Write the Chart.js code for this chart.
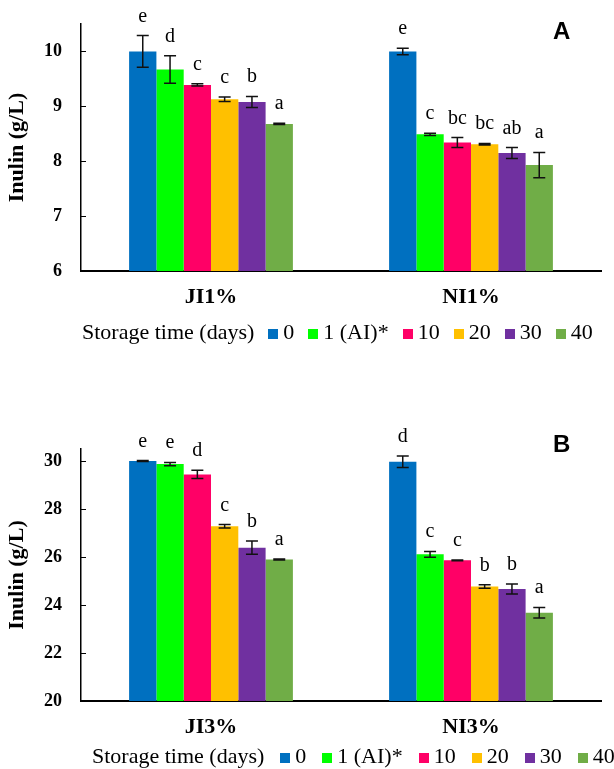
<!DOCTYPE html>
<html>
<head>
<meta charset="utf-8">
<script src="https://cdn.jsdelivr.net/npm/chart.js@4.4.0/dist/chart.umd.min.js"></script>
<style>
  body { margin: 0; background: #fff; }
  #page { position: relative; width: 614px; height: 769px; overflow: hidden; background: #fff; }
  canvas { position: absolute; left: 0; }
  #chartA { top: 0; }
  #chartB { top: 380px; }
  .panel { position: absolute; left: 553px; font: bold 24px "Liberation Sans", Arial, sans-serif; line-height: 24px; }
  .legend { position: absolute; display: flex; align-items: baseline; white-space: nowrap;
            font: 22px "Liberation Serif", "Times New Roman", serif; line-height: 22px; color: #000; }
  .legend .box { display: inline-block; width: 10px; height: 10px; margin-right: 5px; }
  .legend .item { margin-left: var(--gap); }
  .legend .item:first-of-type { margin-left: 19px; }
</style>
</head>
<body>
<div id="page">
  <canvas id="chartA" width="614" height="320"></canvas>
  <canvas id="chartB" width="614" height="370"></canvas>
  <div class="panel" style="top:19px">A</div>
  <div class="panel" style="top:432px">B</div>
  <div class="legend" id="legendA" style="left:82px; top:321px; --gap:14px"></div>
  <div class="legend" id="legendB" style="left:92px; top:745px; --gap:16px"></div>
</div>
<script>
// storage time series (one bar per day in each group)
const storageDays = ['0', '1 (AI)*', '10', '20', '30', '40'];
const dayColors = ['#0070C0', '#00FF00', '#FF0066', '#FFC000', '#7030A0', '#70AD47'];

// panel A: 1% inulin juices
const groupsA = ['JI1%', 'NI1%'];
const ticksA = [6, 7, 8, 9, 10];
const inulinA = [[10.0, 10.0], [9.67, 8.49], [9.39, 8.34], [9.13, 8.31], [9.08, 8.15], [8.68, 7.93]];
const errorsA = [[0.29, 0.06], [0.25, 0.02], [0.02, 0.09], [0.04, 0.015], [0.10, 0.10], [0.01, 0.23]];
const lettersA = [['e', 'e'], ['d', 'c'], ['c', 'bc'], ['c', 'bc'], ['b', 'ab'], ['a', 'a']];

// panel B: 3% inulin juices
const groupsB = ['JI3%', 'NI3%'];
const ticksB = [20, 22, 24, 26, 28, 30];
const inulinB = [[30.0, 29.97], [29.87, 26.11], [29.44, 25.86], [27.28, 24.77], [26.39, 24.67], [25.9, 23.68]];
const errorsB = [[0.02, 0.24], [0.07, 0.12], [0.17, 0.02], [0.07, 0.07], [0.28, 0.21], [0.02, 0.22]];
const lettersB = [['e', 'd'], ['e', 'c'], ['d', 'c'], ['c', 'b'], ['b', 'b'], ['a', 'a']];

const serif = '"Liberation Serif", "Times New Roman", serif';

// error bars, significance letters and short inward ticks on the y axis
const errorBars = {
  id: 'errorBars',
  afterDatasetsDraw(chart) {
    const ctx = chart.ctx;
    const y = chart.scales.y;
    ctx.save();
    chart.data.datasets.forEach((ds, i) => {
      chart.getDatasetMeta(i).data.forEach((bar, j) => {
        const top = y.getPixelForValue(ds.data[j] + ds.errors[j]);
        const bot = y.getPixelForValue(ds.data[j] - ds.errors[j]);
        ctx.strokeStyle = '#111';
        ctx.lineWidth = 1.5;
        ctx.beginPath();
        ctx.moveTo(bar.x, top); ctx.lineTo(bar.x, bot);
        ctx.moveTo(bar.x - 6, top); ctx.lineTo(bar.x + 6, top);
        ctx.moveTo(bar.x - 6, bot); ctx.lineTo(bar.x + 6, bot);
        ctx.stroke();
        ctx.fillStyle = '#000';
        ctx.font = '20px ' + serif;
        ctx.textAlign = 'center';
        ctx.textBaseline = 'alphabetic';
        ctx.fillText(ds.letters[j], bar.x, top - 14);
      });
    });
    const left = chart.chartArea.left;
    ctx.strokeStyle = '#000';
    ctx.lineWidth = 1;
    y.ticks.forEach(t => {
      const py = Math.round(y.getPixelForValue(t.value)) + 0.5;
      ctx.beginPath();
      ctx.moveTo(left, py); ctx.lineTo(left + 5, py);
      ctx.stroke();
    });
    ctx.restore();
  }
};

function makeChart(id, groups, tickValues, values, errors, letters, yMin, yMax, padTop) {
  const datasets = storageDays.map((day, k) => ({
    label: day,
    data: values[k],
    errors: errors[k],
    letters: letters[k],
    backgroundColor: dayColors[k],
    categoryPercentage: 0.63,
    barPercentage: 1.0
  }));
  return new Chart(document.getElementById(id), {
    type: 'bar',
    data: { labels: groups, datasets: datasets },
    plugins: [errorBars],
    options: {
      responsive: false,
      animation: false,
      layout: { padding: { top: padTop, right: 13, left: 0, bottom: 0 } },
      plugins: { legend: { display: false }, tooltip: { enabled: false } },
      scales: {
        x: {
          grid: { display: false },
          border: { display: true, color: '#000', width: 2 },
          ticks: { color: '#000', font: { family: serif, size: 22, weight: 'bold' }, padding: 5 },
          afterFit(scale) { scale.height = 49; }
        },
        y: {
          min: yMin,
          max: yMax,
          grid: { display: false },
          border: { display: true, color: '#000', width: 1.5 },
          ticks: { color: '#000', font: { family: serif, size: 18, weight: 'bold' }, padding: 11 },
          title: { display: true, text: 'Inulin (g/L)', color: '#000',
                   font: { family: serif, size: 22, weight: 'bold' }, padding: { top: 4, bottom: 0 } },
          afterBuildTicks(scale) { scale.ticks = tickValues.map(v => ({ value: v })); },
          afterFit(scale) { scale.width = 81; }
        }
      }
    }
  });
}

function buildLegend(id) {
  const el = document.getElementById(id);
  const title = document.createElement('span');
  title.textContent = 'Storage time (days)';
  el.appendChild(title);
  storageDays.forEach((day, k) => {
    const item = document.createElement('span');
    item.className = 'item';
    const box = document.createElement('span');
    box.className = 'box';
    box.style.background = dayColors[k];
    item.appendChild(box);
    item.appendChild(document.createTextNode(day));
    el.appendChild(item);
  });
}

makeChart('chartA', groupsA, ticksA, inulinA, errorsA, lettersA, 6, 10.5, 24);
makeChart('chartB', groupsB, ticksB, inulinB, errorsB, lettersB, 20, 30.5, 69);
buildLegend('legendA');
buildLegend('legendB');
</script>
</body>
</html>
